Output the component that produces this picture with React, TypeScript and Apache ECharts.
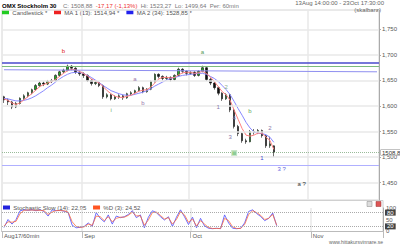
import React, { useEffect, useRef } from 'react';
import * as echarts from 'echarts';

const SLOT_COUNT = 95;
const categories = Array.from({ length: SLOT_COUNT }, (_, i) => `b${i}`);
const monthIdx = [0, 20, 47, 77];
const monthLabels = ['Aug17/60min', 'Sep', 'Oct', 'Nov'];
const priceTicks = [1450, 1500, 1550, 1600, 1650, 1700, 1750];
const stochTicks = [0, 50, 100];

// [open, close, low, high]
const candles = [
  [1618, 1612, 1606, 1620], [1612, 1608, 1602, 1615], [1608, 1598, 1594, 1610], [1598, 1605, 1596, 1608],
  [1605, 1615, 1603, 1617], [1615, 1620, 1612, 1623], [1620, 1626, 1617, 1628], [1626, 1632, 1623, 1634],
  [1632, 1640, 1630, 1643], [1640, 1645, 1637, 1648], [1645, 1643, 1639, 1648], [1643, 1648, 1641, 1651],
  [1648, 1650, 1645, 1653], [1650, 1660, 1648, 1662], [1660, 1667, 1657, 1669], [1667, 1670, 1664, 1673],
  [1670, 1678, 1668, 1681], [1678, 1674, 1670, 1680], [1674, 1666, 1663, 1676], [1666, 1663, 1659, 1669],
  [1663, 1660, 1655, 1666], [1660, 1650, 1647, 1662], [1650, 1644, 1640, 1653], [1644, 1646, 1641, 1649],
  [1646, 1640, 1637, 1648], [1640, 1618, 1614, 1642], [1618, 1622, 1615, 1625], [1622, 1614, 1611, 1624],
  [1614, 1618, 1612, 1621], [1618, 1620, 1614, 1623], [1620, 1616, 1612, 1622], [1616, 1624, 1614, 1626],
  [1624, 1626, 1620, 1629], [1626, 1630, 1623, 1632], [1630, 1636, 1628, 1639], [1636, 1628, 1625, 1638],
  [1628, 1633, 1626, 1635], [1633, 1648, 1631, 1650], [1648, 1662, 1646, 1664], [1662, 1658, 1654, 1664],
  [1658, 1654, 1650, 1660], [1654, 1656, 1651, 1659], [1656, 1652, 1648, 1658], [1652, 1660, 1650, 1662],
  [1660, 1672, 1658, 1675], [1672, 1668, 1664, 1674], [1668, 1664, 1660, 1670], [1664, 1666, 1661, 1668],
  [1666, 1660, 1657, 1668], [1660, 1668, 1658, 1670], [1668, 1675, 1666, 1679], [1675, 1652, 1649, 1677],
  [1652, 1645, 1641, 1655], [1645, 1636, 1632, 1647], [1636, 1625, 1621, 1638], [1625, 1614, 1610, 1627],
  [1614, 1622, 1612, 1625], [1622, 1592, 1588, 1624], [1592, 1560, 1556, 1594], [1560, 1546, 1541, 1563],
  [1546, 1532, 1528, 1548], [1532, 1530, 1526, 1536], [1530, 1550, 1529, 1553], [1550, 1548, 1544, 1555],
  [1548, 1552, 1545, 1555], [1552, 1542, 1538, 1554], [1542, 1522, 1518, 1544], [1522, 1526, 1518, 1540],
  [1522, 1509, 1500, 1523],
];

const ma13 = [
  1614, 1611, 1606, 1603, 1606, 1612, 1618, 1624, 1631, 1638, 1642, 1645, 1648, 1652, 1658, 1664, 1669, 1672,
  1671, 1668, 1664, 1659, 1653, 1649, 1645, 1638, 1630, 1624, 1619, 1617, 1617, 1619, 1621, 1625, 1629, 1631,
  1632, 1637, 1645, 1653, 1656, 1656, 1655, 1656, 1661, 1665, 1666, 1666, 1664, 1665, 1668, 1664, 1657, 1648,
  1638, 1628, 1622, 1611, 1592, 1574, 1556, 1543, 1541, 1543, 1547, 1547, 1539, 1533, 1515,
];

const ma34 = [
  1615, 1614, 1612, 1610, 1610, 1611, 1613, 1616, 1620, 1625, 1630, 1636, 1641, 1647, 1653, 1658, 1662, 1665,
  1666, 1666, 1664, 1660, 1656, 1651, 1646, 1640, 1635, 1630, 1627, 1624, 1622, 1621, 1621, 1623, 1625, 1627,
  1630, 1634, 1639, 1643, 1647, 1651, 1654, 1656, 1658, 1660, 1661, 1662, 1663, 1664, 1664, 1662, 1658, 1654,
  1648, 1640, 1632, 1622, 1609, 1595, 1582, 1568, 1557, 1549, 1547, 1546, 1544, 1539, 1529,
];

const stochK = [
  15, 50, 30, 50, 88, 92, 90, 92, 88, 92, 85, 65, 92, 88, 90, 86, 80, 25, 14, 16, 20, 35, 20, 80, 55, 40, 70,
  30, 65, 58, 62, 72, 88, 58, 70, 14, 60, 88, 80, 62, 48, 62, 20, 60, 92, 62, 28, 60, 14, 55, 22, 12, 10, 12,
  10, 70, 35, 12, 10, 12, 35, 85, 92, 76, 63, 45, 55, 78, 23,
];

const stochD = [
  22, 40, 38, 42, 75, 90, 91, 91, 90, 90, 88, 72, 82, 89, 89, 88, 82, 40, 20, 16, 18, 30, 25, 65, 62, 45, 62,
  40, 55, 60, 60, 68, 82, 66, 66, 25, 48, 80, 82, 68, 52, 58, 30, 50, 84, 70, 38, 52, 22, 45, 30, 15, 11, 11,
  11, 55, 45, 18, 11, 11, 28, 72, 88, 80, 68, 50, 55, 72, 25,
];

// wave annotations
const waveText = ['b', 'a', 'i', 'a', 'b', '1', '2', '4', '3', 'b', '2', 'iii', '1', '3 ?', 'a ?'];
const waveIdx = [15, 50, 27, 33, 35, 54, 56, 58, 57, 62, 67, 58, 65, 70, 75];
const wavePrice = [1708, 1706, 1592, 1653, 1606, 1598, 1637, 1576, 1539, 1590, 1557, 1508, 1498, 1476, 1447];
const waveColor = ['#dd2222', '#559955', '#66aa66', '#9977aa', '#9977aa', '#8877aa', '#88aa88', '#8877aa',
  '#8877aa', '#66aa66', '#8877aa', '#44aa44', '#4444cc', '#6666dd', '#333333'];

const levelTop = 1684;
const levelGreen = 1678;
const slopeStart = 1671;
const slopeEnd = 1667;
const lastPrice = 1509;
const levelLow = 1484;

const fmtThousand = (v: number) => {
  const s = String(Math.round(v));
  return s.length > 3 ? s.slice(0, s.length - 3) + ',' + s.slice(s.length - 3) : s;
};

export default function App() {
  const ref = useRef<HTMLDivElement>(null);
  useEffect(() => {
    if (!ref.current) return;
    const chart = echarts.init(ref.current, undefined, { renderer: 'svg' });
    const font = 'Liberation Sans, Arial, sans-serif';
    const monthSplit = (i: number) => monthIdx.slice(1).includes(i);
    const option: any = {
      animation: false,
      backgroundColor: '#ffffff',
      textStyle: { fontFamily: font },
      grid: [
        { left: 2, right: 17, top: 10, height: 190, show: true, borderColor: '#d4d4d4', borderWidth: 1 },
        { left: 2, right: 17, top: 208, height: 23, show: false },
      ],
      xAxis: [
        {
          type: 'category', gridIndex: 0, data: categories, boundaryGap: true,
          axisLine: { show: false }, axisTick: { show: false }, axisLabel: { show: false },
          splitLine: { show: true, interval: monthSplit, lineStyle: { color: '#e8e8e8', width: 1.5 } },
        },
        {
          type: 'category', gridIndex: 1, data: categories, boundaryGap: true,
          axisLine: { show: true, lineStyle: { color: '#bbbbbb' } },
          axisTick: { show: true, interval: (i: number) => monthIdx.includes(i), length: 7, lineStyle: { color: '#bbbbbb' } },
          axisLabel: {
            show: true, interval: (i: number) => monthIdx.includes(i), align: 'left', margin: 1.5,
            fontSize: 6, color: '#555555', fontFamily: font,
            formatter: (_v: string, i: number) => monthLabels[monthIdx.indexOf(i)] ?? '',
          },
          splitLine: { show: true, interval: monthSplit, lineStyle: { color: '#e8e8e8', width: 1.5 } },
        },
      ],
      yAxis: [
        {
          type: 'value', gridIndex: 0, position: 'right', min: 1416, max: 1788, scale: true,
          axisLine: { show: true, lineStyle: { color: '#aaaaaa' } },
          axisTick: { show: true, customValues: priceTicks, length: 2, lineStyle: { color: '#aaaaaa' } },
          axisLabel: { customValues: priceTicks, fontSize: 6, color: '#555555', margin: 3, fontFamily: font, formatter: (v: number) => fmtThousand(v) },
          splitLine: { show: false },
        },
        {
          type: 'value', gridIndex: 1, position: 'right', min: 0, max: 100,
          axisLine: { show: true, lineStyle: { color: '#aaaaaa' } },
          axisTick: { show: false },
          axisLabel: { customValues: stochTicks, fontSize: 6, color: '#555555', margin: 3, fontFamily: font },
          splitLine: { show: false },
        },
      ],
      series: [
        {
          type: 'line', xAxisIndex: 0, yAxisIndex: 0, data: [], z: 1, silent: true,
          markLine: {
            symbol: 'none', silent: true, label: { show: false },
            lineStyle: { color: '#e8e8e8', width: 1.5, type: 'solid' },
            data: priceTicks.map((v) => ({ yAxis: v })),
          },
        },
        {
          type: 'line', xAxisIndex: 0, yAxisIndex: 0, data: [], z: 2, silent: true,
          markLine: {
            symbol: 'none', silent: true, label: { show: false },
            data: [
              { yAxis: levelTop, lineStyle: { color: '#4a4acc', width: 1.5, type: 'solid' } },
              { yAxis: levelGreen, lineStyle: { color: '#7cbb7c', width: 1, type: 'solid' } },
              [
                { coord: [categories[0], slopeStart], lineStyle: { color: '#8f8ff0', width: 1, type: 'solid' } },
                { coord: [categories[SLOT_COUNT - 1], slopeEnd] },
              ],
              { yAxis: levelLow, lineStyle: { color: '#b0b0ff', width: 1.2, type: 'solid' } },
              {
                yAxis: lastPrice, lineStyle: { color: '#99bb99', width: 1, type: 'dotted' },
                label: {
                  show: true, position: 'end', distance: 2, formatter: '1508,8', fontSize: 6, color: '#333',
                  backgroundColor: '#ffffff', borderColor: '#888', borderWidth: 0.5, padding: [0, 1], fontFamily: font,
                },
              },
            ],
          },
        },
        {
          name: 'Candlestick', type: 'candlestick', xAxisIndex: 0, yAxisIndex: 0, data: candles, z: 3,
          barWidth: 2,
          itemStyle: { color: '#22aa22', color0: '#111111', borderColor: '#111111', borderColor0: '#111111', borderWidth: 0.6 },
          markPoint: {
            symbol: 'circle', symbolSize: 0, silent: true,
            data: waveText.map((t, k) => ({
              coord: [categories[waveIdx[k]], wavePrice[k]],
              label: {
                show: true, formatter: t, color: waveColor[k], fontSize: 6, fontFamily: font,
                ...(t === 'iii' ? { backgroundColor: '#c8e6c8', padding: [0, 1], color: '#44aa44' } : {}),
              },
            })),
          },
        },
        {
          name: 'MA 2', type: 'line', xAxisIndex: 0, yAxisIndex: 0, data: ma34, symbol: 'none', z: 4,
          lineStyle: { color: '#8888ff', width: 1 },
        },
        {
          name: 'MA 1', type: 'line', xAxisIndex: 0, yAxisIndex: 0, data: ma13, symbol: 'none', z: 4,
          lineStyle: { color: '#ff8080', width: 1 },
        },
        {
          type: 'line', xAxisIndex: 1, yAxisIndex: 1, data: [], silent: true,
          markLine: {
            symbol: 'none', silent: true,
            lineStyle: { color: '#aaaaaa', width: 1, type: 'dotted' },
            label: {
              show: true, position: 'end', distance: 2, fontSize: 6, color: '#ffffff', fontFamily: font,
              backgroundColor: '#444444', padding: [0, 2],
            },
            data: [{ yAxis: 80 }, { yAxis: 20 }],
          },
        },
        {
          name: 'Stochastic', type: 'line', xAxisIndex: 1, yAxisIndex: 1, data: stochK, symbol: 'none',
          lineStyle: { color: '#5555ff', width: 1, opacity: 0.85 },
        },
        {
          name: '%D', type: 'line', xAxisIndex: 1, yAxisIndex: 1, data: stochD, symbol: 'none',
          lineStyle: { color: '#ff6633', width: 1, opacity: 0.75 },
        },
      ],
      graphic: [
        {
          type: 'text', left: 2, top: 0, silent: true,
          style: {
            text: '{b|OMX Stockholm 30}  {g|C: 1508,88} {r|-17,17 (-1,13%)} {g|Hi: 1523,27  Lo: 1499,64  Per: 60min}',
            rich: {
              b: { fontSize: 6, fill: '#000', fontFamily: font, fontWeight: 'bold' },
              g: { fontSize: 6, fill: '#777', fontFamily: font },
              r: { fontSize: 6, fill: '#ee3333', fontFamily: font },
            },
          },
        },
        {
          type: 'text', left: 2, top: 6.5, silent: true,
          style: {
            text: '{gs|} {t|Candlestick *}  {rs|} {t|MA 1 (13): 1514,94 *}  {bs|} {t|MA 2 (34): 1528,85 *}',
            rich: {
              gs: { width: 7, height: 3.5, backgroundColor: '#22cc22' },
              rs: { width: 7, height: 3.5, backgroundColor: '#ee2222' },
              bs: { width: 7, height: 3.5, backgroundColor: '#2222ee' },
              t: { fontSize: 6, fill: '#555', fontFamily: font },
            },
          },
        },
        {
          type: 'text', right: 16, top: 0, silent: true,
          style: { text: '13Aug 14:00:00 - 23Oct 17:30:00', fontSize: 6, fill: '#666', fontFamily: font },
        },
        {
          type: 'text', right: 19, top: 6.5, silent: true,
          style: { text: '(skalbara)', fontSize: 6, fill: '#666', fontFamily: font },
        },
        {
          type: 'rect', silent: true, z: -1,
          shape: { x: 1.5, y: 200.5, width: 381.5, height: 31 },
          style: { fill: 'none', stroke: '#cccccc', lineWidth: 1 },
        },
        {
          type: 'text', left: 3, top: 201.5, silent: true,
          style: {
            text: '{ks|} {t|Stochastic Slow (14): 22,95}  {ds|} {t|%D (3): 24,52}',
            rich: {
              ks: { width: 7, height: 4, backgroundColor: '#2222dd' },
              ds: { width: 7, height: 4, backgroundColor: '#ff5522' },
              t: { fontSize: 6, fill: '#555', fontFamily: font },
            },
          },
        },
        {
          type: 'rect', silent: true,
          shape: { x: 367, y: 201.5, width: 5, height: 5 },
          style: { fill: '#dddddd', stroke: '#888888', lineWidth: 0.5 },
        },
        {
          type: 'rect', silent: true,
          shape: { x: 376, y: 201.5, width: 5, height: 5 },
          style: { fill: '#dd5555', stroke: '#993333', lineWidth: 0.5 },
        },
        {
          type: 'text', right: 17, top: 239.5, silent: true,
          style: { text: 'www.hittakursvinnare.se', fontSize: 5, fill: '#666', fontFamily: font },
        },
      ],
    };
    chart.setOption(option);
    return () => chart.dispose();
  }, []);
  return (
    <div
      ref={ref}
      style={{ position: 'fixed', left: 0, top: 0, width: 400, height: 245, background: '#fff' }}
    />
  );
}
